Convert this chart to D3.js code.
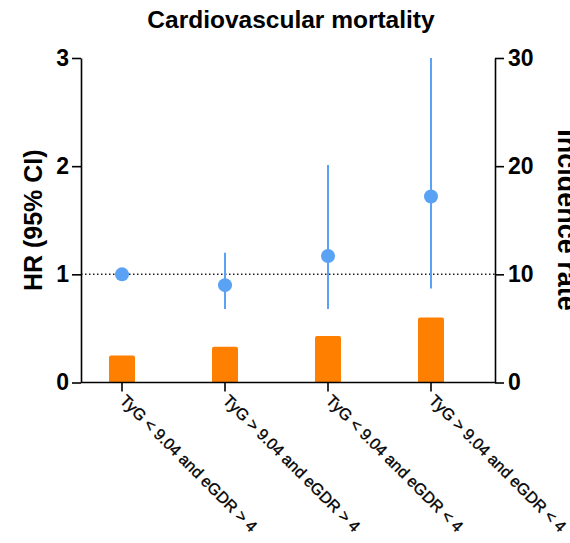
<!DOCTYPE html>
<html><head><meta charset="utf-8">
<script src="https://cdn.jsdelivr.net/npm/d3@7"></script>
<style>body{margin:0;background:#fff}svg{display:block;font-family:"Liberation Sans",Arial,sans-serif}</style>
</head><body>
<script>
const categories = ["TyG < 9.04 and eGDR > 4","TyG > 9.04 and eGDR > 4","TyG < 9.04 and eGDR < 4","TyG > 9.04 and eGDR < 4"];
const hr = [1.0, 0.90, 1.17, 1.72];
const hrLower = [1.0, 0.68, 0.68, 0.87];
const hrUpper = [1.0, 1.20, 2.01, 3.0];
const incidence = [2.5, 3.3, 4.3, 6.0];
const leftTicks = [0,1,2,3];
const rightTicks = [0,10,20,30];

const W=570,H=543;
const svg=d3.select("body").append("svg").attr("width",W).attr("height",H);
const x0=81,x1=495,yTop=58,yBot=382.5;
const x=d3.scalePoint().domain(categories).range([122,431]);
const yL=d3.scaleLinear().domain([0,3]).range([yBot,yTop]);
const yR=d3.scaleLinear().domain([0,30]).range([yBot,yTop]);

svg.append("text").attr("x",291).attr("y",28).attr("text-anchor","middle")
  .attr("font-size",24.5).attr("font-weight","bold").text("Cardiovascular mortality");

// bars
const bw=26;
svg.selectAll("path.bar").data(categories).enter().append("path").attr("class","bar")
  .attr("fill","#FF8000")
  .attr("d",(d,i)=>{const xl=x(d)-bw/2,xr=x(d)+bw/2,yt=yR(incidence[i]),r=2;
    return `M${xl},${yBot}V${yt+r}Q${xl},${yt} ${xl+r},${yt}H${xr-r}Q${xr},${yt} ${xr},${yt+r}V${yBot}Z`;});

// reference line
svg.append("line").attr("x1",x0).attr("x2",x1).attr("y1",yL(1)).attr("y2",yL(1))
  .attr("stroke","#222").attr("stroke-width",1.5).attr("stroke-dasharray","1.5,2.5");

// CI
svg.selectAll("line.ci").data(categories).enter().append("line").attr("class","ci")
  .attr("x1",d=>x(d)).attr("x2",d=>x(d))
  .attr("y1",(d,i)=>yL(hrLower[i])).attr("y2",(d,i)=>yL(hrUpper[i]))
  .attr("stroke","#5AA2F3").attr("stroke-width",2);
svg.selectAll("circle.pt").data(categories).enter().append("circle").attr("class","pt")
  .attr("cx",d=>x(d)).attr("cy",(d,i)=>yL(hr[i])).attr("r",7).attr("fill","#5AA2F3");

// axes
const axStyle=g=>{g.selectAll("path,line").attr("stroke","#000").attr("stroke-width",1.6);
  g.selectAll("text").attr("font-size",23).attr("font-weight","bold").attr("fill","#000").attr("font-family","Liberation Sans, Arial, sans-serif");};
svg.append("g").attr("transform",`translate(${x0},0)`)
  .call(d3.axisLeft(yL).tickValues(leftTicks).tickSize(9).tickSizeOuter(0).tickPadding(3).tickFormat(d3.format("d")))
  .call(axStyle);
svg.append("g").attr("transform",`translate(${x1},0)`)
  .call(d3.axisRight(yR).tickValues(rightTicks).tickSize(9).tickSizeOuter(0).tickPadding(4).tickFormat(d3.format("d")))
  .call(axStyle);
const xg=svg.append("g").attr("transform",`translate(0,${yBot})`);
xg.append("line").attr("x1",x0).attr("x2",x1).attr("stroke","#000").attr("stroke-width",1.6);
xg.selectAll("line.tk").data(categories).enter().append("line").attr("class","tk")
  .attr("x1",d=>x(d)).attr("x2",d=>x(d)).attr("y1",0).attr("y2",9).attr("stroke","#000").attr("stroke-width",1.6);
xg.selectAll("text").data(categories).enter().append("text")
  .attr("transform",d=>`translate(${x(d)-3},${19}) rotate(45)`)
  .attr("font-size",16).attr("fill","#000").attr("stroke","#000").attr("stroke-width",0.35).text(d=>d);

// axis titles
svg.append("text").attr("transform",`translate(42,${(yTop+yBot)/2}) rotate(-90)`)
  .attr("text-anchor","middle").attr("font-size",25).attr("font-weight","bold").text("HR (95% CI)");
svg.append("text").attr("transform",`translate(558,220) rotate(90)`)
  .attr("text-anchor","middle").attr("font-size",27).attr("font-weight","bold").text("Incidence rate");
</script>
</body></html>
